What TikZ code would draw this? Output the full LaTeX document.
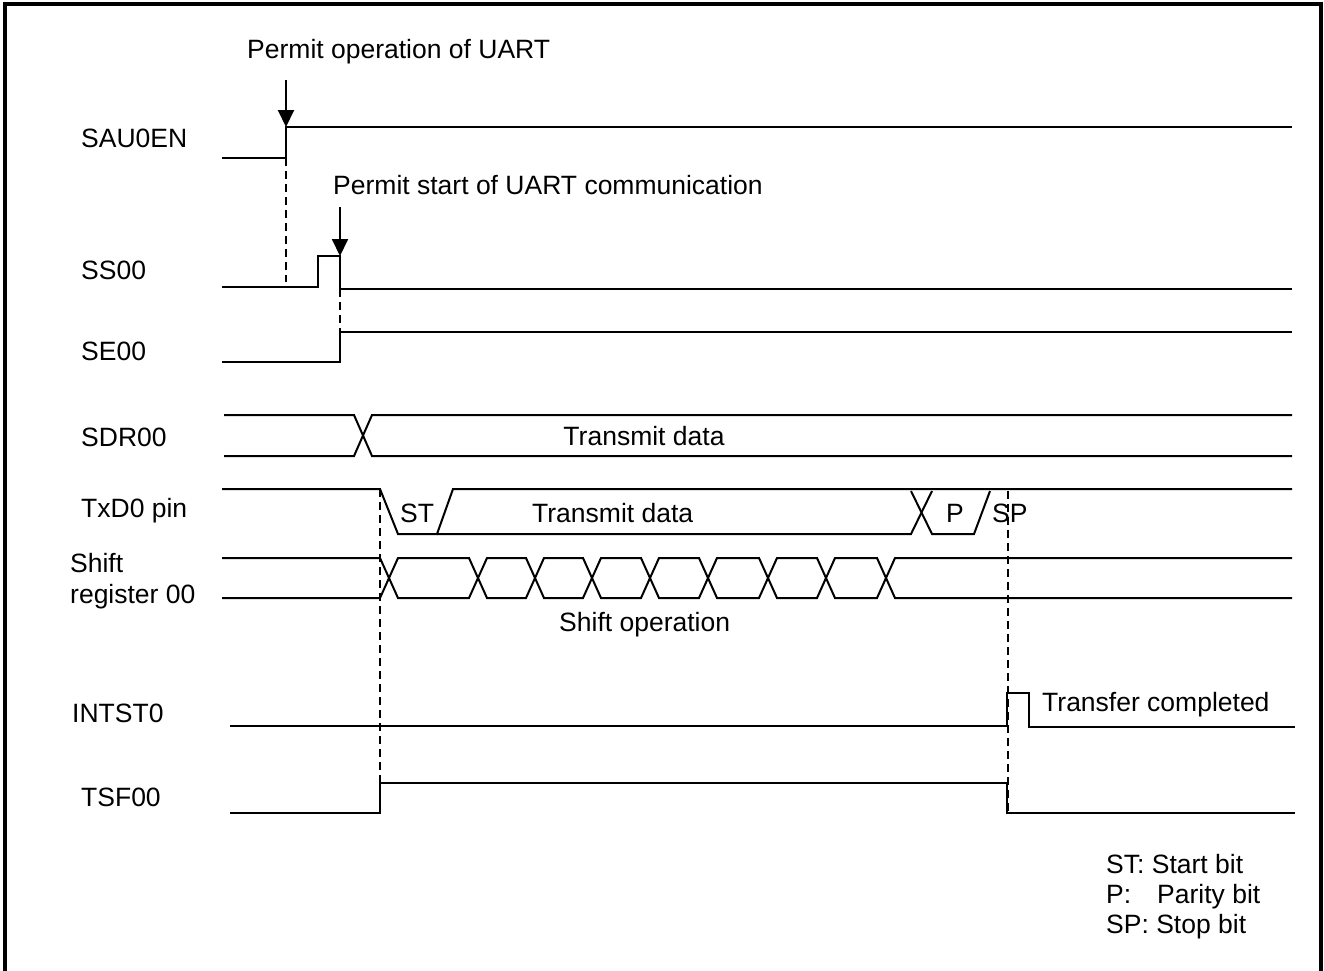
\documentclass[tikz,border=0pt]{standalone}
\usepackage{fontspec}
\setmainfont{Liberation Sans}
\usetikzlibrary{arrows.meta}
\begin{document}
\begin{tikzpicture}[x=1pt,y=-1pt,
  sig/.style={line width=2pt, line join=miter},
  guide/.style={line width=1.8pt, dash pattern=on 8pt off 5pt},
  lbl/.style={anchor=base west, inner sep=0pt, font=\fontsize{26.5}{30}\selectfont},
  clbl/.style={anchor=base, inner sep=0pt, font=\fontsize{26.5}{30}\selectfont},
  marker/.style={line width=2pt, -{Triangle[length=17pt,width=16pt]}}]
\useasboundingbox (0,0) rectangle (1324,970);
% frame (open at bottom)
\draw[line width=4pt] (5,972) -- (5,4) -- (1321,4) -- (1321,972);

% signal names
\node[lbl] (nSAU) at (81,147) {SAU0EN};
\node[lbl] (nSS)  at (81,279) {SS00};
\node[lbl] (nSE)  at (81,360) {SE00};
\node[lbl] (nSDR) at (81,446) {SDR00};
\node[lbl] (nTXD) at (81,517) {TxD0 pin};
\node[lbl] (nSH1) at (70,572) {Shift};
\node[lbl] (nSH2) at (70,603) {register 00};
\node[lbl] (nINT) at (72,722) {INTST0};
\node[lbl] (nTSF) at (81,806) {TSF00};

% annotations
\node[lbl] (tPermOp) at (247,58) {Permit operation of UART};
\node[lbl] (tPermSt) at (333,194) {Permit start of UART communication};
\node[clbl] (tSDR) at (644,445) {Transmit data};
\node[lbl] (tST) at (400,522) {ST};
\node[lbl] (tTXD) at (532,522) {Transmit data};
\node[lbl] (tP) at (946,522) {P};
\node[lbl] (tSP) at (992,522) {SP};
\node[lbl] (tShift) at (559,631) {Shift operation};
\node[lbl] (tDone) at (1042,711) {Transfer completed};
\node[lbl] (lg1) at (1106,873) {ST: Start bit};
\node[lbl] (lg2a) at (1106,903) {P:};
\node[lbl] (lg2b) at (1157,903) {Parity bit};
\node[lbl] (lg3) at (1106,933) {SP: Stop bit};

% arrows
\coordinate (a1s) at (286,80);  \coordinate (a1e) at (286,127);
\coordinate (a2s) at (340,207); \coordinate (a2e) at (340,256);
\draw[marker] (a1s) -- (a1e);
\draw[marker] (a2s) -- (a2e);

% dashed guides
\draw[guide] (286,158) -- (286,282);
\draw[guide] (340,289) -- (340,332);
\draw[guide] (380,489) -- (380,783);
\draw[guide] (1008,491) -- (1008,813);

% SAU0EN
\draw[sig] (222,158) -- (286,158) -- (286,127) -- (1292,127);
% SS00
\draw[sig] (222,287) -- (318,287) -- (318,256) -- (340,256) -- (340,289) -- (1292,289);
% SE00
\draw[sig] (222,362) -- (340,362) -- (340,332) -- (1292,332);
% SDR00
\draw[sig] (224,415) -- (354,415) -- (372,456) -- (1292,456);
\draw[sig] (224,456) -- (354,456) -- (372,415) -- (1292,415);
% TxD0
\draw[sig] (222,489) -- (380,489) -- (398,534) -- (437,534) -- (453,489) -- (1292,489);
\draw[sig] (437,534) -- (911,534) -- (932,491);
\draw[sig] (911,491) -- (932,534) -- (974,534) -- (990,491);
% Shift register
\draw[sig] (222,558) -- (380,558) -- (398,598) -- (469,598) -- (487,558) -- (526,558) -- (544,598) -- (583,598) -- (601,558) -- (641,558) -- (659,598) -- (699,598) -- (717,558) -- (759,558) -- (777,598) -- (817,598) -- (835,558) -- (877,558) -- (895,598) -- (1292,598);
\draw[sig] (222,598) -- (380,598) -- (398,558) -- (469,558) -- (487,598) -- (526,598) -- (544,558) -- (583,558) -- (601,598) -- (641,598) -- (659,558) -- (699,558) -- (717,598) -- (759,598) -- (777,558) -- (817,558) -- (835,598) -- (877,598) -- (895,558) -- (1292,558);
% INTST0
\draw[sig] (230,726) -- (1007,726) -- (1007,693) -- (1029,693) -- (1029,727) -- (1295,727);
% TSF00
\draw[sig] (230,813) -- (380,813) -- (380,783) -- (1007,783) -- (1007,813) -- (1295,813);
\end{tikzpicture}
\end{document}
